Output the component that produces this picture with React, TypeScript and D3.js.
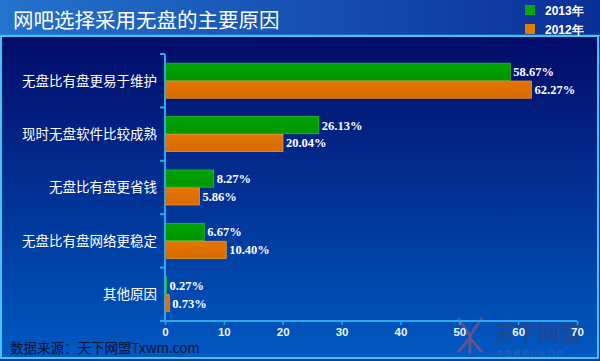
import { useEffect, useRef } from 'react';
import * as d3 from 'd3';

const categories = ['无盘比有盘更易于维护', '现时无盘软件比较成熟', '无盘比有盘更省钱', '无盘比有盘网络更稳定', '其他原因'];
const seriesNames = ['2013年', '2012年'];
const values2013 = [58.67, 26.13, 8.27, 6.67, 0.27];
const values2012 = [62.27, 20.04, 5.86, 10.4, 0.73];
const xTicks = [0, 10, 20, 30, 40, 50, 60, 70];

const W = 600;
const H = 361;

export default function App() {
  const ref = useRef<SVGSVGElement | null>(null);

  useEffect(() => {
    document.body.style.margin = '0';
    const svg = d3.select(ref.current);
    svg.selectAll('*').remove();

    const defs = svg.append('defs');
    const bgGrad = defs.append('linearGradient').attr('id', 'bg').attr('x1', 0).attr('y1', 0).attr('x2', 0).attr('y2', 1);
    bgGrad.append('stop').attr('offset', '0%').attr('stop-color', '#020b68');
    bgGrad.append('stop').attr('offset', '100%').attr('stop-color', '#0059c2');
    const headGrad = defs.append('linearGradient').attr('id', 'head').attr('x1', 0).attr('y1', 0).attr('x2', 1).attr('y2', 0);
    headGrad.append('stop').attr('offset', '0%').attr('stop-color', '#2373cc');
    headGrad.append('stop').attr('offset', '100%').attr('stop-color', '#0a2f96');
    const gGreen = defs.append('linearGradient').attr('id', 'gGreen').attr('x1', 0).attr('y1', 0).attr('x2', 0).attr('y2', 1);
    gGreen.append('stop').attr('offset', '0%').attr('stop-color', '#00a400');
    gGreen.append('stop').attr('offset', '100%').attr('stop-color', '#009400');
    const gOrange = defs.append('linearGradient').attr('id', 'gOrange').attr('x1', 0).attr('y1', 0).attr('x2', 0).attr('y2', 1);
    gOrange.append('stop').attr('offset', '0%').attr('stop-color', '#e67600');
    gOrange.append('stop').attr('offset', '100%').attr('stop-color', '#d66a00');

    // panel + header
    svg.append('rect').attr('x', 0).attr('y', 0).attr('width', W).attr('height', H).attr('fill', '#0a3a9a');
    svg.append('rect').attr('x', 1).attr('y', 36).attr('width', W - 3).attr('height', H - 39).attr('fill', 'url(#bg)')
      .attr('stroke', '#45c3ee').attr('stroke-width', 2);
    svg.append('rect').attr('x', 0).attr('y', 0).attr('width', W).attr('height', 35).attr('fill', 'url(#head)');
    svg.append('line').attr('x1', 0).attr('x2', W).attr('y1', 35.5).attr('y2', 35.5).attr('stroke', '#45c3ee').attr('stroke-width', 1.5);

    svg.append('text').attr('x', 13).attr('y', 28).text('网吧选择采用无盘的主要原因')
      .style('font-family', "'Noto Sans CJK SC', sans-serif").style('font-size', '20.5px').style('fill', '#ffffff');

    const colors = ['url(#gGreen)', 'url(#gOrange)'];
    const strokes = ['#27c227', '#f2952a'];
    const legendFill = ['#0aa80a', '#e57a00'];
    seriesNames.forEach((s, i) => {
      const ly = 5 + i * 19;
      svg.append('rect').attr('x', 525).attr('y', ly).attr('width', 10).attr('height', 10).attr('fill', legendFill[i]);
      svg.append('text').attr('x', 545).attr('y', ly + 10).text(s)
        .style('font-family', "'Liberation Sans', Arial, sans-serif").style('font-weight', 'bold')
        .style('font-size', '12px').style('fill', '#ffffff');
    });

    const x = d3.scaleLinear().domain([0, 70]).range([165, 577]);
    const y = d3.scaleBand().domain(categories).range([54, 321]).paddingInner(0.345).paddingOuter(0.1725);
    const y1 = d3.scaleBand().domain(seriesNames).range([0, y.bandwidth()]).paddingInner(0.04);

    // watermark (logo + site name, faint)
    const wm = svg.append('g').style('opacity', 0.6);
    wm.append('text').attr('x', 494).attr('y', 341).text('天下网盟')
      .style('font-family', "'Noto Sans CJK SC', sans-serif").style('font-weight', 'bold')
      .style('font-size', '22px').style('fill', '#33437f');
    wm.append('text').attr('x', 496).attr('y', 356).text('中 国 网 吧 行 业 门 户')
      .style('font-family', "'Noto Sans CJK SC', sans-serif").style('font-size', '7px').style('fill', '#5a6aa8');
    wm.append('path').attr('d', 'M458,318 L470,336 L482,318 M470,336 L470,354 M458,352 L470,338 L482,352')
      .attr('fill', 'none').attr('stroke', '#a8506e').attr('stroke-width', 3);

    const series = [values2013, values2012];
    const g = svg.append('g');
    categories.forEach((c, ci) => {
      series.forEach((vals, si) => {
        const by = (y(c) as number) + (y1(seriesNames[si]) as number);
        const bh = y1.bandwidth();
        g.append('rect').attr('x', x(0)).attr('y', by).attr('width', Math.max(x(vals[ci]) - x(0), 1.5)).attr('height', bh)
          .attr('fill', colors[si]).attr('stroke', strokes[si]).attr('stroke-width', 0.8);
        g.append('text').attr('x', x(vals[ci]) + 3).attr('y', by + bh / 2).attr('dy', '0.35em')
          .text(`${vals[ci].toFixed(2)}%`)
          .style('font-family', "'Liberation Serif', 'Times New Roman', serif").style('font-weight', 'bold')
          .style('font-size', '12.5px').style('fill', '#ffffff');
      });
      g.append('text').attr('x', 157).attr('y', (y(c) as number) + y.bandwidth() / 2).attr('dy', '0.36em')
        .attr('text-anchor', 'end').text(c)
        .style('font-family', "'Noto Sans CJK SC', sans-serif").style('font-size', '13.5px').style('fill', '#ffffff');
    });

    // left axis: ticks at band boundaries
    const bounds = categories.map(c => (y(c) as number) - y.step() * y.paddingInner() / 2);
    bounds.push(y.range()[1]);
    const axisColor = '#2ea6ea';
    svg.append('line').attr('x1', x(0)).attr('x2', x(0)).attr('y1', y.range()[0]).attr('y2', y.range()[1])
      .attr('stroke', axisColor).attr('stroke-width', 2);
    svg.selectAll('.ltick').data(bounds).enter().append('line')
      .attr('x1', x(0) - 5).attr('x2', x(0)).attr('y1', d => d).attr('y2', d => d)
      .attr('stroke', axisColor).attr('stroke-width', 2);

    const xa = svg.append('g').attr('transform', `translate(0,${y.range()[1]})`)
      .call(d3.axisBottom(x).tickValues(xTicks).tickSize(4).tickPadding(3).tickSizeOuter(0));
    xa.select('.domain').attr('stroke', axisColor).attr('stroke-width', 2).attr('d', `M${x(0) - 5},0H${x(70)}`);
    xa.selectAll('.tick line').attr('stroke', axisColor).attr('stroke-width', 1.5);
    xa.selectAll('.tick text').style('font-family', "'Liberation Sans', Arial, sans-serif").style('font-weight', 'bold')
      .style('font-size', '11.5px').style('fill', '#eef2fa');

    svg.append('text').attr('x', 10).attr('y', 353).text('数据来源：天下网盟Txwm.com')
      .style('font-family', "'Noto Sans CJK SC', 'Liberation Serif', serif").style('font-size', '13.5px').style('fill', '#0a0f30');
  }, []);

  return <svg ref={ref} width={W} height={H} style={{ display: 'block' }} />;
}
